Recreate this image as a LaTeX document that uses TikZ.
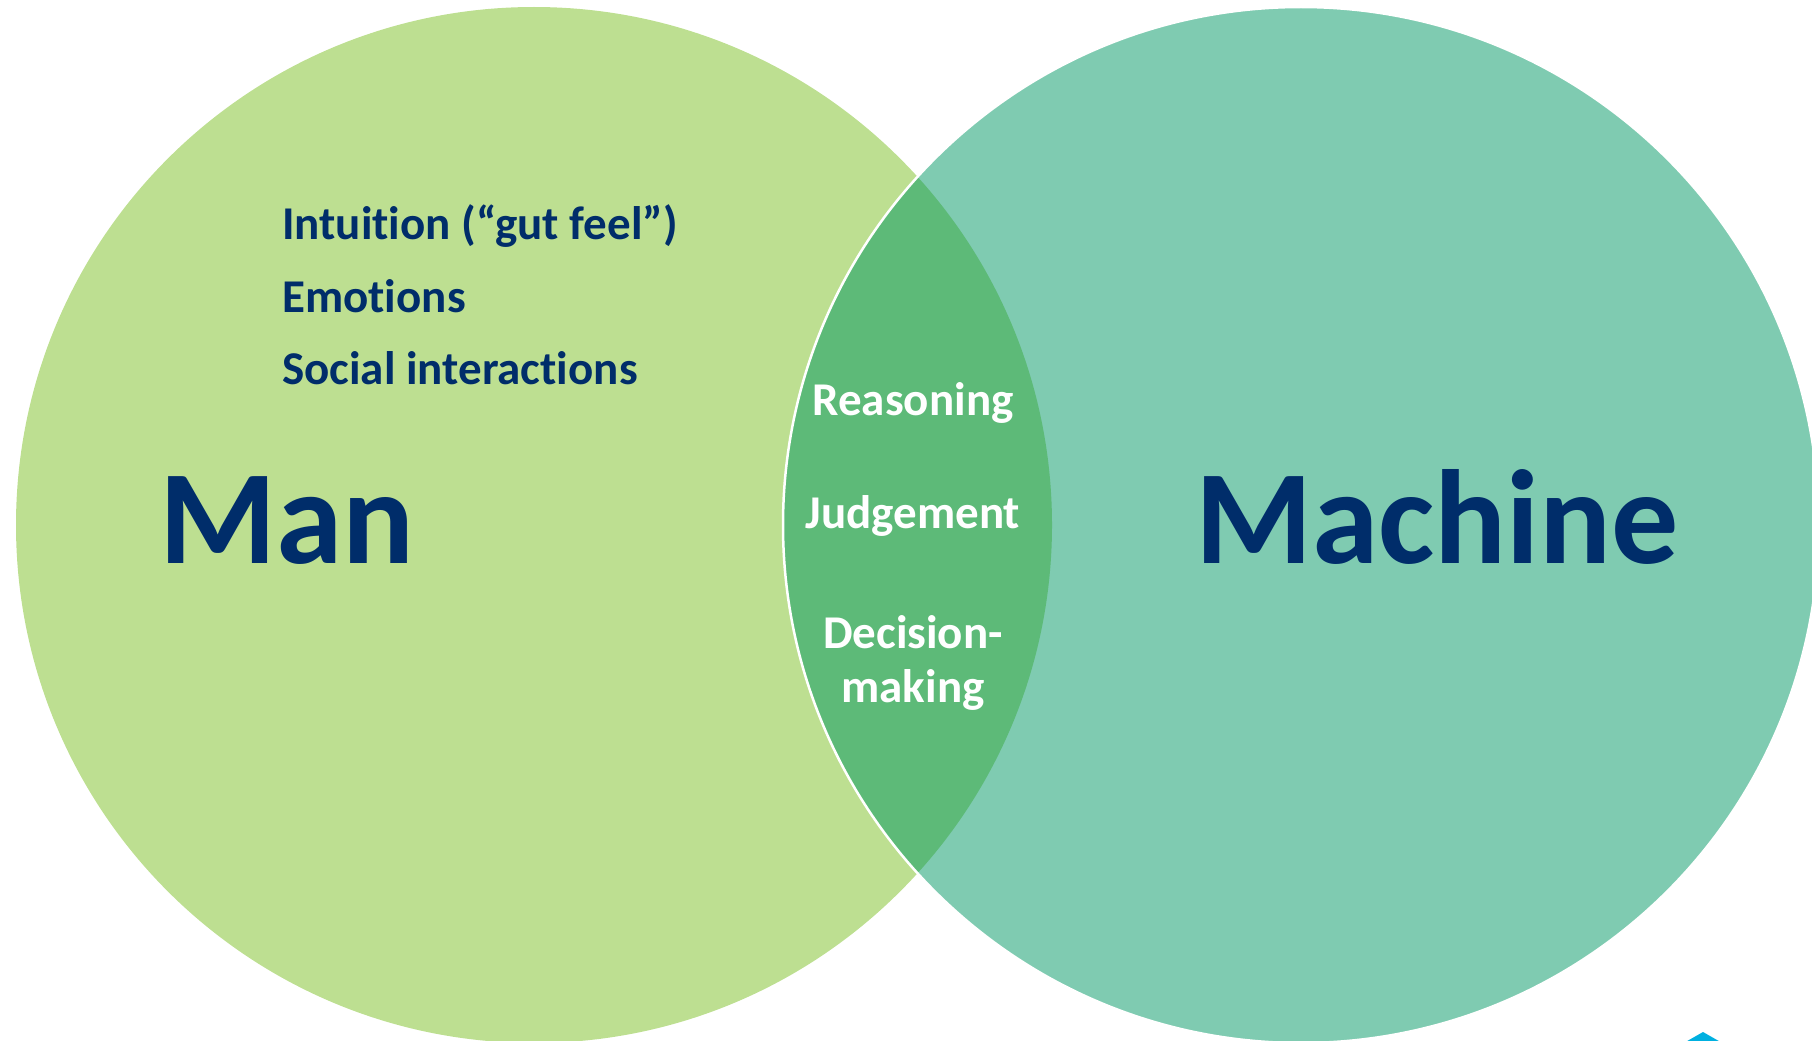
\documentclass[tikz,border=0pt]{standalone}
\usepackage{fontspec}
\setmainfont{Carlito}[Ligatures=NoCommon]
\usepackage{xcolor}
\usepackage{tikz}

\definecolor{mangreen}{RGB}{189,223,145}
\definecolor{machinegreen}{RGB}{127,203,177}
\definecolor{lensgreen}{RGB}{93,186,120}
\definecolor{navyblue}{RGB}{0,45,106}
\definecolor{logocyan}{RGB}{0,176,224}

\begin{document}
\begin{tikzpicture}[x=1pt,y=-1pt,
    trait/.style={anchor=base west,inner sep=0pt,text=navyblue,
        font=\fontsize{47}{56}\selectfont\bfseries},
    shared/.style={anchor=base,inner sep=0pt,text=white,align=center,
        font=\fontsize{47}{54}\selectfont\bfseries},
    title/.style={anchor=base,inner sep=0pt,text=navyblue,
        font=\fontsize{134}{160}\selectfont\bfseries}]

    \useasboundingbox (0,0) rectangle (1812,1041);

    \coordinate (cman)     at (534,525);
    \coordinate (cmachine) at (1301,525);

    % the two circles and their overlap
    \fill[mangreen]     (cman)     circle (518);
    \fill[machinegreen] (cmachine) circle (518);
    \begin{scope}
        \clip (cman) circle (518);
        \fill[lensgreen] (cmachine) circle (518);
    \end{scope}
    \draw[white,line width=2.5pt] (cmachine) circle (518);

    % corner of the logo
    \fill[logocyan] (1703,1032) -- (1731,1048) -- (1675,1048) -- cycle;

    \node[trait] (intuition) at (282,239) {Intuition (“gut feel”)};
    \node[trait] (emotions)  at (282,312) {Emotions};
    \node[trait] (social)    at (282,384) {Social interactions};

    \node[shared] (reasoning) at (913,415) {Reasoning};
    \node[shared] (judgement) at (913,528) {Judgement};
    \node[shared] (decision)  at (913,702) {Decision-\\making};

    \node[title] (man)     at (287,563)  {Man};
    \node[title] (machine) at (1437,563) {Machine};

\end{tikzpicture}
\end{document}
